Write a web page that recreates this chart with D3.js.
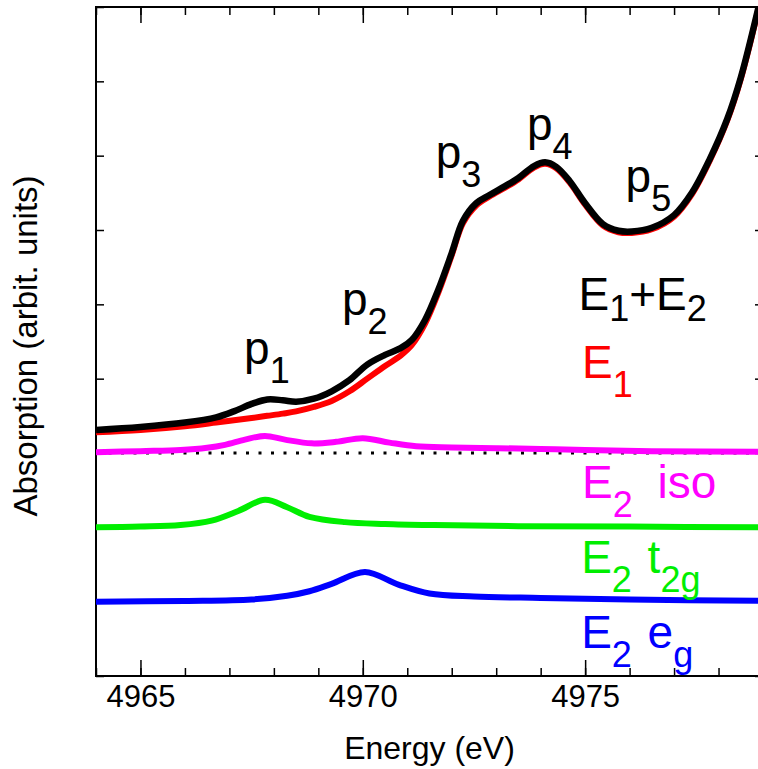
<!DOCTYPE html>
<html>
<head>
<meta charset="utf-8">
<script src="https://cdn.jsdelivr.net/npm/d3@7"></script>
<style>
  body { margin: 0; background: #fff; }
  svg { display: block; font-family: "Liberation Sans", Arial, sans-serif; }
  text { white-space: pre; }
</style>
</head>
<body>
<div id="chart"></div>
<script>
// E1+E2 (black) and E1 (red) share the same energy grid
var energyMain = [4964.0, 4965.0, 4966.0, 4966.7, 4967.1, 4967.5, 4967.85, 4968.2, 4968.5, 4968.9,
  4969.3, 4969.7, 4970.1, 4970.5, 4970.85, 4971.1, 4971.4, 4971.7, 4972.0, 4972.25,
  4972.55, 4972.85, 4973.2, 4973.5, 4973.85, 4974.1, 4974.35, 4974.65, 4975.0, 4975.4,
  4975.75, 4976.05, 4976.5, 4977.0, 4977.4, 4977.8, 4978.2, 4978.5, 4978.9];
var sumValues = [3.31, 3.35, 3.41, 3.48, 3.56, 3.66, 3.72, 3.71, 3.69, 3.73,
  3.83, 3.98, 4.19, 4.32, 4.41, 4.52, 4.79, 5.20, 5.69, 6.12,
  6.36, 6.47, 6.59, 6.70, 6.86, 6.91, 6.85, 6.66, 6.36, 6.08,
  5.99, 5.98, 6.03, 6.20, 6.50, 6.95, 7.50, 8.05, 9.00];
var e1Values = [3.28, 3.31, 3.36, 3.41, 3.44, 3.47, 3.50, 3.53, 3.56, 3.62,
  3.70, 3.83, 4.00, 4.17, 4.31, 4.45, 4.74, 5.16, 5.66, 6.09,
  6.33, 6.45, 6.57, 6.68, 6.84, 6.89, 6.83, 6.64, 6.34, 6.06,
  5.97, 5.96, 6.01, 6.18, 6.48, 6.93, 7.48, 8.03, 8.98];

// E2 iso (magenta), offset 3
var energyIso = [4964.0, 4965.0, 4965.9, 4966.5, 4966.9, 4967.35, 4967.8, 4968.25, 4968.85, 4969.4,
  4970.0, 4970.6, 4971.2, 4972.0, 4973.0, 4974.0, 4975.0, 4976.5, 4979.0];
var isoValues = [3.01, 3.025, 3.04, 3.07, 3.11, 3.18, 3.23, 3.18, 3.13, 3.15,
  3.20, 3.14, 3.09, 3.075, 3.065, 3.055, 3.04, 3.025, 3.015];

// E2 t2g (green), offset 2
var energyT2g = [4964.0, 4965.0, 4965.9, 4966.6, 4967.2, 4967.8, 4968.3, 4968.8, 4969.6, 4970.5,
  4971.6, 4973.5, 4976.0, 4979.0];
var t2gValues = [2.00, 2.01, 2.03, 2.09, 2.22, 2.37, 2.27, 2.14, 2.07, 2.045,
  2.03, 2.015, 2.01, 2.00];

// E2 eg (blue), offset 1
var energyEg = [4964.0, 4966.0, 4967.5, 4968.3, 4968.8, 4969.3, 4970.05, 4970.8, 4971.5, 4972.5,
  4974.0, 4976.0, 4979.0];
var egValues = [1.00, 1.01, 1.03, 1.08, 1.14, 1.24, 1.40, 1.23, 1.11, 1.07,
  1.05, 1.03, 1.01];

var zeroLevel = [3];                       // dotted reference line
var xTickLabels = [4965, 4970, 4975];
var xMinorTicks = d3.range(4964, 4980, 1);
var yTicks = d3.range(0, 10, 1);

var width = 758, height = 769;
var padL = 96, padR = 763, padT = 7, padB = 676;

var svg = d3.select("#chart").append("svg")
  .attr("width", width)
  .attr("height", height);

var x = d3.scaleLinear().domain([4964, 4979]).range([padL, padR]);
var y = d3.scaleLinear().domain([0, 9]).range([padB, padT]);

svg.append("clipPath").attr("id", "plotClip")
  .append("rect")
  .attr("x", padL).attr("y", padT)
  .attr("width", padR - padL).attr("height", padB - padT);

// axes: inward ticks on all four sides
function styleAxis(g) {
  g.select(".domain").remove();
  g.selectAll(".tick line").attr("stroke", "#000").attr("stroke-width", 1.5);
}

svg.append("g")
  .attr("transform", "translate(0," + padB + ")")
  .call(d3.axisBottom(x).tickValues(xMinorTicks).tickSize(-8).tickFormat(""))
  .call(styleAxis);
svg.append("g")
  .attr("transform", "translate(0," + padB + ")")
  .call(d3.axisBottom(x).tickValues(xTickLabels).tickSize(-16).tickPadding(9).tickFormat(d3.format("d")))
  .call(styleAxis)
  .selectAll("text")
  .attr("font-size", 31)
  .attr("fill", "#000")
  .attr("font-family", "Liberation Sans, Arial, sans-serif");
svg.append("g")
  .attr("transform", "translate(0," + padT + ")")
  .call(d3.axisTop(x).tickValues(xMinorTicks).tickSize(-8).tickFormat(""))
  .call(styleAxis);
svg.append("g")
  .attr("transform", "translate(0," + padT + ")")
  .call(d3.axisTop(x).tickValues(xTickLabels).tickSize(-16).tickFormat(""))
  .call(styleAxis);
svg.append("g")
  .attr("transform", "translate(" + padL + ",0)")
  .call(d3.axisLeft(y).tickValues(yTicks).tickSize(-8).tickFormat(""))
  .call(styleAxis);
svg.append("g")
  .attr("transform", "translate(" + padR + ",0)")
  .call(d3.axisRight(y).tickValues(yTicks).tickSize(-8).tickFormat(""))
  .call(styleAxis);

svg.append("rect")
  .attr("x", padL).attr("y", padT)
  .attr("width", padR - padL).attr("height", padB - padT)
  .attr("fill", "none")
  .attr("stroke", "#000")
  .attr("stroke-width", 2);

// curves
var plot = svg.append("g").attr("clip-path", "url(#plotClip)");

plot.selectAll(".zero")
  .data(zeroLevel)
  .enter().append("line")
  .attr("x1", x(4964)).attr("x2", x(4979))
  .attr("y1", function(d) { return y(d); })
  .attr("y2", function(d) { return y(d); })
  .attr("stroke", "#000")
  .attr("stroke-width", 3)
  .attr("stroke-dasharray", "3,9.5");

var lineFun = d3.line()
  .x(function(d) { return x(d[0]); })
  .y(function(d) { return y(d[1]); })
  .curve(d3.curveCatmullRom.alpha(0.5));

var series = [
  { e: energyEg, v: egValues, color: "#0000ff", w: 6 },
  { e: energyT2g, v: t2gValues, color: "#00ee00", w: 6 },
  { e: energyIso, v: isoValues, color: "#ff00ff", w: 6 },
  { e: energyMain, v: e1Values, color: "#ff0000", w: 6 },
  { e: energyMain, v: sumValues, color: "#000000", w: 6.5 }
];

series.forEach(function(s) {
  plot.append("path")
    .datum(s.e.map(function(d, i) { return [d, s.v[i]]; }))
    .attr("fill", "none")
    .attr("stroke", s.color)
    .attr("stroke-width", s.w)
    .attr("stroke-linejoin", "round")
    .attr("d", lineFun);
});

// labels: [energy, value] is the left baseline point
var labels = [
  { at: [4967.33, 4.20], color: "#000", parts: [["p"], ["1", 1]], sub: 19 },
  { at: [4969.53, 4.85], color: "#000", parts: [["p"], ["2", 1]], sub: 19 },
  { at: [4971.64, 6.84], color: "#000", parts: [["p"], ["3", 1]], sub: 19 },
  { at: [4973.69, 7.21], color: "#000", parts: [["p"], ["4", 1]], sub: 19 },
  { at: [4975.91, 6.51], color: "#000", parts: [["p"], ["5", 1]], sub: 19 },
  { at: [4974.85, 4.92], color: "#000", parts: [["E"], ["1", 1], ["+E"], ["2", 1]], sub: 11 },
  { at: [4974.93, 4.01], color: "#ff0000", parts: [["E"], ["1", 1]], sub: 19 },
  { at: [4974.93, 2.40], color: "#ff00ff", parts: [["E"], ["2", 1], [" iso", 0, 12]], sub: 19 },
  { at: [4974.91, 1.39], color: "#00ee00", parts: [["E"], ["2", 1], [" t", 0, 3], ["2g", 1]], sub: 19 },
  { at: [4974.91, 0.38], color: "#0000ff", parts: [["E"], ["2", 1], [" e", 0, 3], ["g", 1]], sub: 19 }
];

labels.forEach(function(l) {
  var t = svg.append("text")
    .attr("x", x(l.at[0]))
    .attr("y", y(l.at[1]))
    .attr("fill", l.color)
    .attr("font-size", 46);
  var down = false;
  l.parts.forEach(function(p) {
    var isSub = p[1] === 1;
    var dy = 0;
    if (isSub && !down) { dy = l.sub; down = true; }
    else if (!isSub && down) { dy = -l.sub; down = false; }
    t.append("tspan")
      .attr("dy", dy)
      .attr("dx", p[2] || 0)
      .attr("font-size", isSub ? 36 : 46)
      .text(p[0]);
  });
});

// axis titles
svg.append("text")
  .attr("x", (padL + padR) / 2)
  .attr("y", 759)
  .attr("text-anchor", "middle")
  .attr("font-size", 32)
  .text("Energy (eV)");

svg.append("text")
  .attr("transform", "translate(37," + 346 + ") rotate(-90)")
  .attr("text-anchor", "middle")
  .attr("font-size", 33)
  .text("Absorption (arbit. units)");
</script>
</body>
</html>
